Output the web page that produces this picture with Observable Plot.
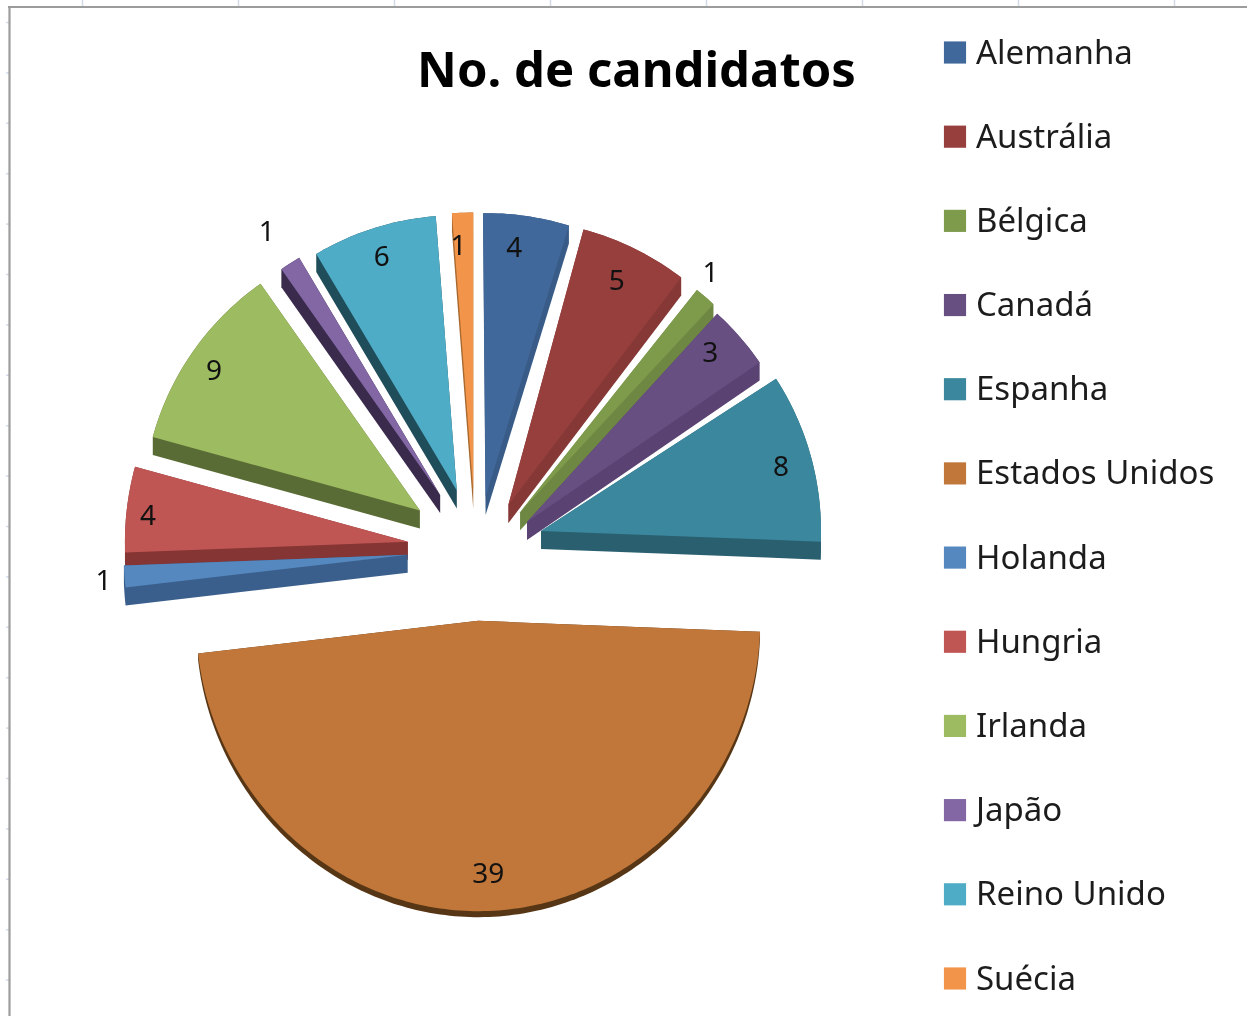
<!DOCTYPE html>
<html>
<head>
<meta charset="utf-8">
<script src="https://cdn.jsdelivr.net/npm/d3@7"></script>
<script src="https://cdn.jsdelivr.net/npm/@observablehq/plot@0.6"></script>
<style>
html,body{margin:0;padding:0;background:#fff;}
svg{display:block;filter:blur(0.55px);}
</style>
</head>
<body>
<div id="chart"></div>
<script>
const title = "No. de candidatos";
const countries = ["Alemanha","Austrália","Bélgica","Canadá","Espanha","Estados Unidos","Holanda","Hungria","Irlanda","Japão","Reino Unido","Suécia"];
const candidates = [4,5,1,3,8,39,1,4,9,1,6,1];
const topColors = ["#41689a","#973f3d","#7e9b4c","#674f82","#3b889e","#c1773a","#5588bf","#c05654","#9dbb61","#8267a4","#4facc6","#f2954a"];
const sideColors = ["#395b87","#853836","#6e8742","#5a4272","#2a5f70","#573615","#3b5f8c","#853533","#5a6c35","#3a2a4c","#1f4d5a","#a8682f"];

// layout of the exploded 3-D pie
const W = 1247, H = 1016;
const cx = 475, cy = 549, stretch = 7e-5;
const explodeBy = [53,56,58,59,70,71,68,68,68,65,62,59];
const nudgeX = [2,6,6,6,-2,0,0,0,0,0,0,0];
const nudgeY = [0,5,6,10,0,0,0,0,0,0,0,0];
const turnBy = [-0.5,-2.3,-1,-1.5,0,0,0,0,0,0,0,0];
const radiusBy = [284,286,284,282,280,282,284,283,277,276,275,278];
const depthBy = [18,18,18,18,18,6,18,18,18,18,18,18];
const labelRadius = [311,311,371,314,323,319,368,325,316,382,311,310];
const labelTurn = [-0.7,-0.5,-1.4,-0.7,-0.6,-1,0.4,0.4,0.6,0.7,1,0];
const labelCx = 470, labelCy = 555;

const total = d3.sum(candidates);
const rad = d => d * Math.PI / 180;

let cum = 0;
const slices = countries.map((name, i) => {
  const a0 = cum / total * 360;
  cum += candidates[i];
  const a1 = cum / total * 360;
  const mid = (a0 + a1) / 2;
  const e = explodeBy[i], R = radiusBy[i];
  const ex = e * Math.sin(rad(mid)) + nudgeX[i], ey = -e * Math.cos(rad(mid)) + nudgeY[i];
  const raw = [[ex, ey]];
  const n = Math.max(2, Math.ceil(a1 - a0));
  for (let k = 0; k <= n; k++) {
    const a = rad(a0 + (a1 - a0) * k / n + turnBy[i]);
    raw.push([ex + R * Math.sin(a), ey - R * Math.cos(a)]);
  }
  const pts = raw.map(([x, y]) => [cx + x, cy + y * (1 + stretch * Math.max(y, 0))]);
  const d = depthBy[i];
  const hull = d3.polygonHull(pts.concat(pts.map(([x, y]) => [x, y + d])));
  return {name, i, value: candidates[i], mid, pts, hull};
});

// back to front
const ordered = slices.slice().sort((a, b) => Math.cos(rad(b.mid)) - Math.cos(rad(a.mid)));
const polys = [];
ordered.forEach(s => {
  s.hull.forEach(([x, y]) => polys.push({x, y, key: s.name + "-side", color: sideColors[s.i]}));
  s.pts.forEach(([x, y]) => polys.push({x, y, key: s.name + "-top", color: topColors[s.i]}));
});

const labels = slices.map(s => {
  const a = rad(s.mid + labelTurn[s.i]), r = labelRadius[s.i];
  return {x: labelCx + r * Math.sin(a), y: labelCy - r * Math.cos(a), text: String(s.value)};
});

const legend = countries.map((name, i) => ({name, color: topColors[i], y: 52 + i * 84.18}));

const gridX = d3.range(8).map(i => 82 + i * 156);
const gridY = d3.range(20).map(i => 22 + i * 50.4);

const font = "'Noto Sans', sans-serif";

const plot = Plot.plot({
  width: W, height: H, margin: 0,
  x: {domain: [0, W], range: [0, W], axis: null},
  y: {domain: [0, H], range: [0, H], axis: null},
  color: {type: "identity"},
  marks: [
    Plot.ruleX(gridX, {y1: 0, y2: 6, stroke: "#d3dbe8", strokeWidth: 1.5}),
    Plot.ruleY(gridY, {x1: 6, x2: 9, stroke: "#d3dbe8", strokeWidth: 1.5}),
    Plot.ruleY([6.5], {x1: 8, x2: W, stroke: "#9c9c9c", strokeWidth: 2.2}),
    Plot.ruleX([9], {y1: 6, y2: H, stroke: "#9c9c9c", strokeWidth: 2.2}),
    Plot.line(polys, {x: "x", y: "y", z: "key", fill: "color", stroke: "none", curve: "linear"}),
    Plot.text(labels, {x: "x", y: "y", text: "text", fontSize: 28, fill: "#111", fontFamily: font}),
    Plot.text([title], {x: 636, y: 71, text: d => d, fontSize: 49, fontWeight: 700, fill: "#000", fontFamily: font}),
    Plot.dot(legend, {x: 954.5, y: "y", symbol: "square", r: 12.5, fill: "color", stroke: "none"}),
    Plot.text(legend, {x: 975.5, y: d => d.y + 0.5, text: "name", textAnchor: "start", fontSize: 33, fill: "#1c1c1c", fontFamily: font})
  ]
});
plot.style.background = "#fff";
plot.style.maxWidth = "none";
document.getElementById("chart").appendChild(plot);
</script>
</body>
</html>
